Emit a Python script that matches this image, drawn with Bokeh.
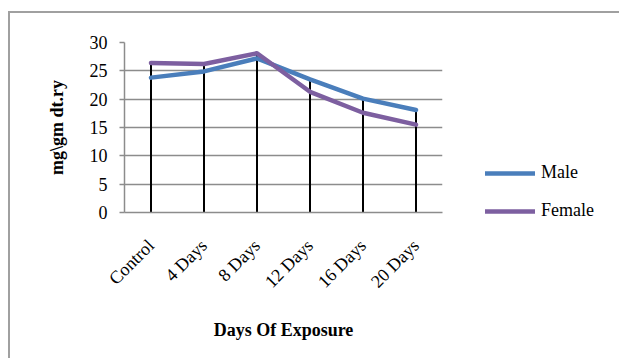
import numpy as np
from bokeh.plotting import figure
from bokeh.layouts import column
from bokeh.models import FactorRange, Range1d, Legend, LegendItem, SingleIntervalTicker, ColumnDataSource
from bokeh.embed import file_html
from bokeh.resources import INLINE
from math import pi

categories = ["Control", "4 Days", "8 Days", "12 Days", "16 Days", "20 Days"]
male = [23.8, 24.9, 27.2, 23.5, 20.1, 18.1]
female = [26.4, 26.2, 28.1, 21.3, 17.6, 15.5]

FONT = "Liberation Serif"
GRID = "#8c8c8c"
FS = "18px"

p = figure(width=607, height=345, output_backend="svg", toolbar_location=None,
           x_range=FactorRange(*categories, range_padding=0), y_range=Range1d(0, 30),
           frame_width=318, frame_height=170,
           min_border_left=114, min_border_top=29, min_border_right=175, min_border_bottom=146)
p.outline_line_color = None
p.background_fill_color = "white"
p.border_fill_color = "white"

# drop lines
top = np.maximum(np.array(male), np.array(female))
src = ColumnDataSource(dict(x=categories, y0=[0] * len(categories), y1=top))
p.segment(x0="x", y0="y0", x1="x", y1="y1", source=src, line_color="black", line_width=2)

r_m = p.line(categories, male, line_color="#4a7ebb", line_width=4.5, line_cap="round", line_join="round")
r_f = p.line(categories, female, line_color="#7d5fa0", line_width=4.5, line_cap="round", line_join="round")

# axes
p.xgrid.grid_line_color = None
p.ygrid.grid_line_color = GRID
p.ygrid.grid_line_width = 1.5
p.yaxis.ticker = SingleIntervalTicker(interval=5)
p.yaxis.axis_line_color = GRID
p.yaxis.axis_line_width = 1.5
p.yaxis.major_tick_line_color = GRID
p.yaxis.major_tick_line_width = 1.5
p.yaxis.major_tick_out = 5
p.yaxis.major_tick_in = 0
p.yaxis.minor_tick_line_color = None
p.yaxis.major_label_standoff = 12
p.yaxis.major_label_text_font = FONT
p.yaxis.major_label_text_font_size = FS
p.yaxis.major_label_text_color = "black"
p.yaxis.axis_label = "mg\\gm dt.ry"
p.yaxis.axis_label_text_font = FONT
p.yaxis.axis_label_text_font_size = FS
p.yaxis.axis_label_text_font_style = "bold"
p.yaxis.axis_label_text_color = "black"
p.yaxis.axis_label_standoff = 20

p.xaxis.axis_line_color = GRID
p.xaxis.axis_line_width = 1.5
p.xaxis.major_tick_line_color = None
p.xaxis.minor_tick_line_color = None
p.xaxis.major_label_orientation = pi / 4
p.xaxis.major_label_standoff = 24
p.xaxis.major_label_text_font = FONT
p.xaxis.major_label_text_font_size = FS
p.xaxis.major_label_text_color = "black"
p.xaxis.axis_label = "Days Of Exposure"
p.xaxis.axis_label_text_font = FONT
p.xaxis.axis_label_text_font_size = FS
p.xaxis.axis_label_text_font_style = "bold"
p.xaxis.axis_label_text_color = "black"
p.xaxis.axis_label_standoff = 18

legend = Legend(items=[LegendItem(label="Male", renderers=[r_m]),
                       LegendItem(label="Female", renderers=[r_f])],
                location=(43, -9), glyph_width=50, glyph_height=20, spacing=17,
                label_standoff=6, padding=0, margin=0, border_line_color=None,
                background_fill_alpha=0, label_text_font=FONT, label_text_font_size=FS,
                label_text_color="black")
p.add_layout(legend, "right")

layout = column(p, margin=(11, 0, 0, 8),
                styles={"border-top": "2px solid #a0a0a0", "border-left": "2px solid #a0a0a0"})

open("out.html", "w").write(file_html(layout, INLINE))
